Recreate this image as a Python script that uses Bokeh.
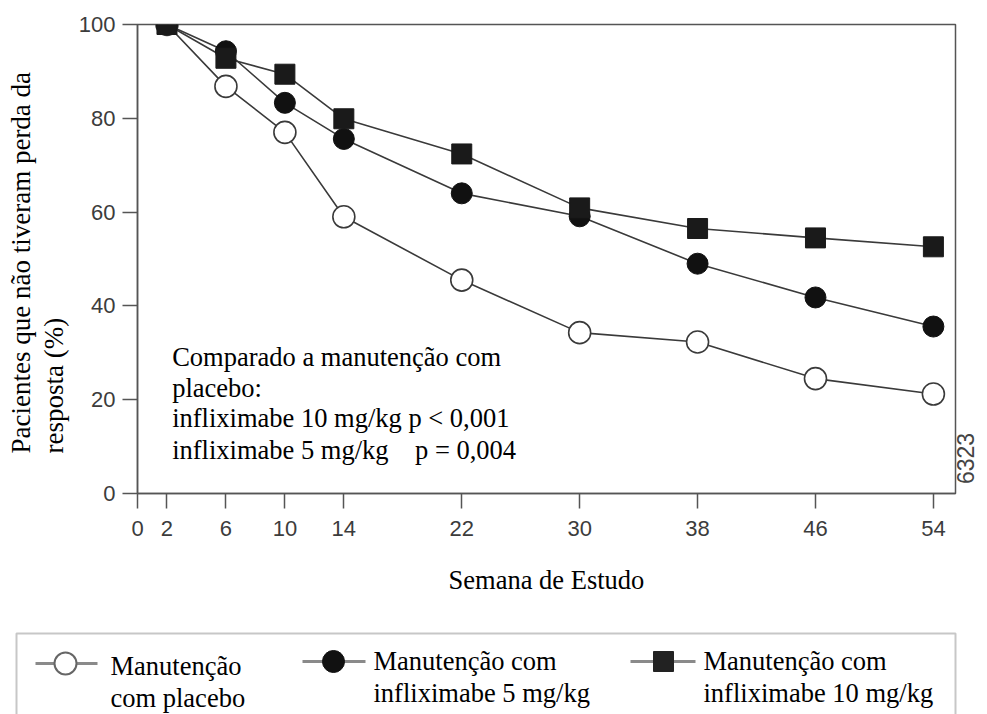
import math
from bokeh.plotting import figure
from bokeh.models import Range1d, FixedTicker, Label, BoxAnnotation, Title, LinearAxis
from bokeh.embed import file_html
from bokeh.resources import INLINE

# ---- data ----
weeks = [2, 6, 10, 14, 22, 30, 38, 46, 54]
placebo = [100, 86.8, 77.0, 59.0, 45.5, 34.3, 32.3, 24.5, 21.2]
ifx5 = [100, 94.3, 83.3, 75.6, 64.0, 59.1, 49.0, 41.8, 35.6]
ifx10 = [100, 92.8, 89.4, 79.9, 72.4, 60.9, 56.5, 54.5, 52.6]
x_ticks = [0, 2, 6, 10, 14, 22, 30, 38, 46, 54]
y_ticks = [0, 20, 40, 60, 80, 100]
x_label = "Semana de Estudo"
y_label_lines = ["Pacientes que não tiveram perda da", "resposta (%)"]
note_lines = ["Comparado a manutenção com",
              "placebo:",
              "infliximabe 10 mg/kg p < 0,001",
              "infliximabe 5 mg/kg\u00a0\u00a0\u00a0 p = 0,004"]
legend_labels = [("Manutenção", "com placebo"),
                 ("Manutenção com", "infliximabe 5 mg/kg"),
                 ("Manutenção com", "infliximabe 10 mg/kg")]
code_text = "6323"

SERIF = "Liberation Serif"
SANS = "Liberation Sans"
AX = "#555555"
LN = "#3a3a3a"
FS = "26.5px"

W = 987
H1 = 625
p = figure(width=W, height=H1, x_range=Range1d(0, 55.5), y_range=Range1d(0, 100),
           output_backend="svg", toolbar_location=None,
           min_border_left=137, min_border_right=32, min_border_top=24, min_border_bottom=132)
p.background_fill_color = "white"
p.border_fill_color = "white"
p.xgrid.visible = False
p.ygrid.visible = False
p.outline_line_color = AX
p.outline_line_width = 1.5

p.xaxis.ticker = FixedTicker(ticks=x_ticks)
p.yaxis.ticker = FixedTicker(ticks=y_ticks)
for ax in (p.xaxis[0], p.yaxis[0]):
    ax.axis_line_color = AX
    ax.axis_line_width = 1.5
    ax.major_tick_line_color = AX
    ax.major_tick_line_width = 1.5
    ax.major_tick_out = 15
    ax.major_tick_in = 0
    ax.minor_tick_line_color = None
    ax.major_label_text_font = SANS
    ax.major_label_text_font_size = "22px"
    ax.major_label_text_color = "#3c3c3c"
p.xaxis.major_label_standoff = 12
p.yaxis.major_label_standoff = 7
p.xaxis.axis_label = x_label
p.xaxis.axis_label_text_font = SERIF
p.xaxis.axis_label_text_font_size = FS
p.xaxis.axis_label_text_font_style = "normal"
p.xaxis.axis_label_text_color = "black"
p.xaxis.axis_label_standoff = 26

# y-axis label: two left-aligned rotated lines (titles on the left side)
for txt, so in zip([y_label_lines[1], y_label_lines[0]], [14, -12]):
    p.add_layout(Title(text=txt, align="left", offset=40, standoff=so, text_font=SERIF,
                       text_font_size="27px", text_font_style="normal",
                       text_color="black"), "left")

# code on the right side, as a tick-less axis label
code_axis = LinearAxis(ticker=FixedTicker(ticks=[2]), major_label_overrides={2: code_text},
                       major_label_orientation=math.pi / 2, axis_line_color=None,
                       major_tick_line_color=None, minor_tick_line_color=None,
                       major_tick_out=0, major_tick_in=0, major_label_standoff=10,
                       major_label_text_font=SANS, major_label_text_font_size="23px",
                       major_label_text_color="#444444")
p.add_layout(code_axis, "right")

# lines
for ys in (placebo, ifx5, ifx10):
    p.line(weeks, ys, line_color=LN, line_width=1.6)
# markers
p.scatter(weeks, placebo, marker="circle", size=22, fill_color="white",
          line_color=LN, line_width=1.6)
p.scatter(weeks, ifx5, marker="circle", size=21, fill_color="#111111", line_color="#111111")
p.scatter(weeks, ifx10, marker="square", size=20, fill_color="#1a1a1a", line_color="#1a1a1a")

# note text
for yv, txt in zip([29.0, 22.4, 16.0, 9.17], note_lines):
    p.add_layout(Label(x=2.35, y=yv, text=txt, text_align="left", text_baseline="middle",
                       text_font=SERIF, text_font_size=FS, text_color="black"))

# ---- legend panel (separate root, page px coordinates) ----
LH = 714 - H1
lg = figure(width=W, height=LH, x_range=Range1d(0, W), y_range=Range1d(LH, 0),
            output_backend="svg", toolbar_location=None, min_border=0,
            x_axis_type=None, y_axis_type=None)
lg.outline_line_color = None
lg.xgrid.visible = False
lg.ygrid.visible = False
lg.background_fill_color = "white"
lg.border_fill_color = "white"
lg.add_layout(BoxAnnotation(left=16, right=955, top=8, bottom=400, fill_color=None,
                            line_color="#444444", line_width=2))

sw_line_x = [(35, 97), (302, 365), (630, 695)]
sw_mark_x = [65, 333, 663]
sw_y = [38, 36, 36]
txt_x = [110, 373, 703]
txt_y = [(40, 72), (35, 67), (35, 67)]
markers = [dict(marker="circle", size=22, fill_color="white", line_color="#666666", line_width=2),
           dict(marker="circle", size=22, fill_color="#111111", line_color="#111111"),
           dict(marker="square", size=20, fill_color="#222222", line_color="#222222")]
for i in range(3):
    lg.line(list(sw_line_x[i]), [sw_y[i], sw_y[i]], line_color="#8a8a8a", line_width=3)
    lg.scatter([sw_mark_x[i]], [sw_y[i]], **markers[i])
    for ty, t in zip(txt_y[i], legend_labels[i]):
        lg.add_layout(Label(x=txt_x[i], y=ty, text=t, text_align="left", text_baseline="middle",
                            text_font=SERIF, text_font_size=FS, text_color="black"))

open("out.html", "w").write(file_html([p, lg], INLINE))
